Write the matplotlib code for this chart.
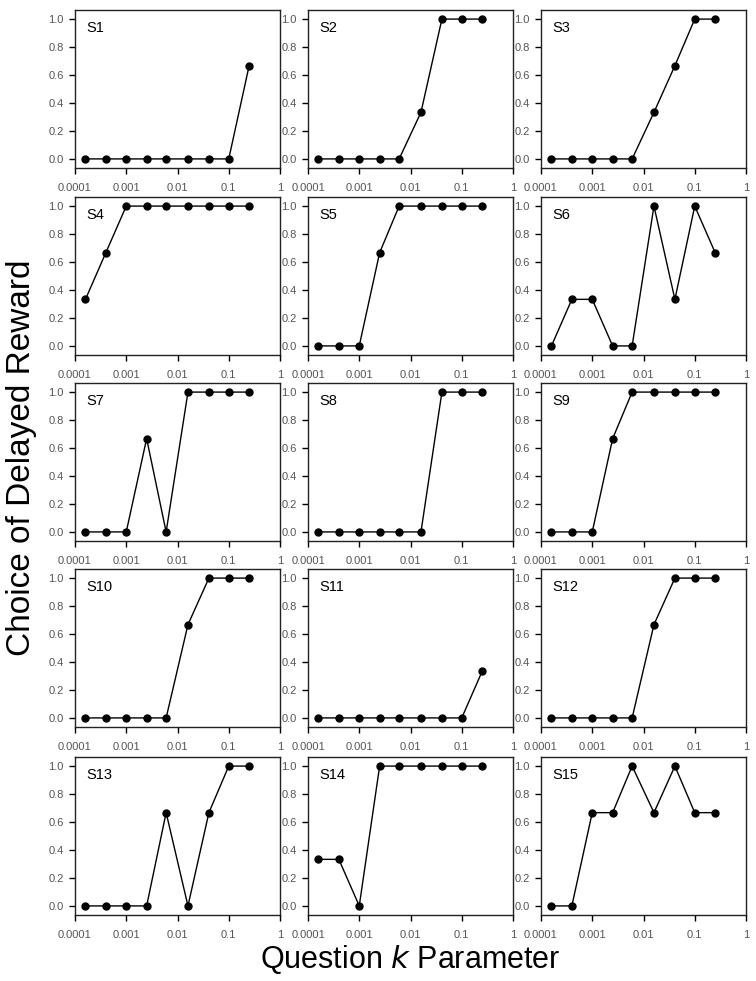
import matplotlib
matplotlib.use("Agg")
import matplotlib.pyplot as plt
import numpy as np

plt.rcParams['font.family'] = ['Liberation Sans', 'DejaVu Sans']

# k values of the questions (log scale)
k_vals = [0.00016, 0.0004, 0.001, 0.0025, 0.006, 0.016, 0.041, 0.1, 0.25]

s1 = [0, 0, 0, 0, 0, 0, 0, 0, 0.667]
s2 = [0, 0, 0, 0, 0, 0.333, 1, 1, 1]
s3 = [0, 0, 0, 0, 0, 0.333, 0.667, 1, 1]
s4 = [0.333, 0.667, 1, 1, 1, 1, 1, 1, 1]
s5 = [0, 0, 0, 0.667, 1, 1, 1, 1, 1]
s6 = [0, 0.333, 0.333, 0, 0, 1, 0.333, 1, 0.667]
s7 = [0, 0, 0, 0.667, 0, 1, 1, 1, 1]
s8 = [0, 0, 0, 0, 0, 0, 1, 1, 1]
s9 = [0, 0, 0, 0.667, 1, 1, 1, 1, 1]
s10 = [0, 0, 0, 0, 0, 0.667, 1, 1, 1]
s11 = [0, 0, 0, 0, 0, 0, 0, 0, 0.333]
s12 = [0, 0, 0, 0, 0, 0.667, 1, 1, 1]
s13 = [0, 0, 0, 0, 0.667, 0, 0.667, 1, 1]
s14 = [0.333, 0.333, 0, 1, 1, 1, 1, 1, 1]
s15 = [0, 0, 0.667, 0.667, 1, 0.667, 1, 0.667, 0.667]

subjects = [s1, s2, s3, s4, s5, s6, s7, s8, s9, s10, s11, s12, s13, s14, s15]
names = ["S%i" % (i + 1) for i in range(15)]

xticks = [0.0001, 0.001, 0.01, 0.1, 1]
xticklabels = ["0.0001", "0.001", "0.01", "0.1", "1"]
yticks = [0.0, 0.2, 0.4, 0.6, 0.8, 1.0]

W, H = 756, 981
fig = plt.figure(figsize=(W / 100, H / 100), dpi=100)

lefts = [75, 308, 541]
tops = [10, 197, 383, 569, 757]
aw, ah = 205, 158

for i in range(15):
	r, c = i // 3, i % 3
	ax = fig.add_axes([lefts[c] / W, 1 - (tops[r] + ah) / H, aw / W, ah / H])
	ax.plot(k_vals, subjects[i], color="black", lw=1, marker="o", ms=5)
	ax.set_xscale("log")
	ax.set_xlim(0.0001, 1)
	ax.set_ylim(-0.065, 1.065)
	ax.set_xticks(xticks)
	ax.set_xticklabels(xticklabels)
	ax.xaxis.set_minor_locator(matplotlib.ticker.NullLocator())
	ax.set_yticks(yticks)
	ax.set_yticklabels(["%.1f" % v for v in yticks])
	ax.tick_params(labelsize=8, labelcolor="#555555", length=4, width=1, direction="out")
	ax.tick_params(axis="x", pad=7)
	ax.tick_params(axis="y", pad=4)
	for sp in ax.spines.values():
		sp.set_linewidth(1)
		sp.set_color("#222222")
	ax.text(0.055, 0.886, names[i], transform=ax.transAxes, fontsize=10.5, va="center", ha="left")

fig.text(22 / W, 1 - 458 / H, "Choice of Delayed Reward", rotation=90, fontsize=24, ha="center", va="center")
fig.text(410 / W, 1 - 960 / H, r"Question $\mathit{k}$ Parameter", fontsize=22, ha="center", va="center")

fig.savefig("out.png", dpi=100)
